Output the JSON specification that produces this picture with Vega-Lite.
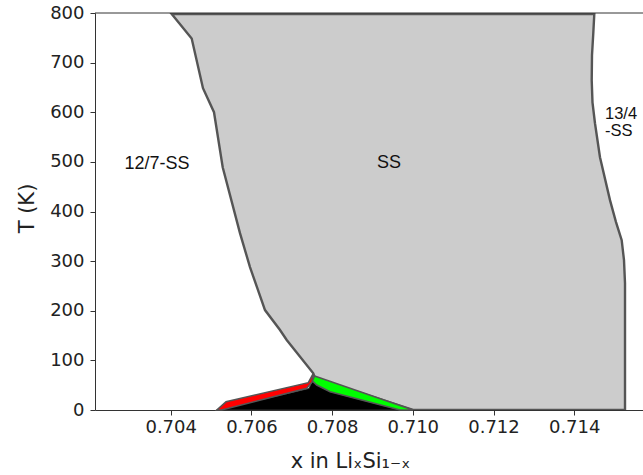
{
  "$schema": "https://vega.github.io/schema/vega-lite/v6.json",
  "autosize": "none",
  "padding": {"left": 95, "top": 13, "right": 0, "bottom": 65},
  "width": 548,
  "height": 397,
  "background": "white",
  "config": {"view": {"stroke": null}},
  "datasets": {
    "regions": [
      {"phase": "SS", "i": 1, "x": 0.704025, "T": 798},
      {"phase": "SS", "i": 2, "x": 0.70452, "T": 748.5},
      {"phase": "SS", "i": 3, "x": 0.7048, "T": 648.4},
      {"phase": "SS", "i": 4, "x": 0.705073, "T": 600.1},
      {"phase": "SS", "i": 5, "x": 0.705289, "T": 489.3},
      {"phase": "SS", "i": 6, "x": 0.705717, "T": 356.4},
      {"phase": "SS", "i": 7, "x": 0.705965, "T": 288},
      {"phase": "SS", "i": 8, "x": 0.706337, "T": 201.4},
      {"phase": "SS", "i": 9, "x": 0.706709, "T": 161.1},
      {"phase": "SS", "i": 10, "x": 0.706875, "T": 141},
      {"phase": "SS", "i": 11, "x": 0.707534, "T": 73.9},
      {"phase": "SS", "i": 12, "x": 0.707576, "T": 64.4},
      {"phase": "SS", "i": 13, "x": 0.710005, "T": 0},
      {"phase": "SS", "i": 14, "x": 0.715259, "T": 0},
      {"phase": "SS", "i": 15, "x": 0.715259, "T": 255.7},
      {"phase": "SS", "i": 16, "x": 0.715234, "T": 302},
      {"phase": "SS", "i": 17, "x": 0.715177, "T": 342.3},
      {"phase": "SS", "i": 18, "x": 0.715036, "T": 378.6},
      {"phase": "SS", "i": 19, "x": 0.714887, "T": 422.9},
      {"phase": "SS", "i": 20, "x": 0.714639, "T": 509.5},
      {"phase": "SS", "i": 21, "x": 0.714515, "T": 577.9},
      {"phase": "SS", "i": 22, "x": 0.714453, "T": 620},
      {"phase": "SS", "i": 23, "x": 0.714434, "T": 664.5},
      {"phase": "SS", "i": 24, "x": 0.714441, "T": 714.9},
      {"phase": "SS", "i": 25, "x": 0.714473, "T": 759.2},
      {"phase": "SS", "i": 26, "x": 0.714498, "T": 798},
      {"phase": "black", "i": 1, "x": 0.70514, "T": 0},
      {"phase": "black", "i": 2, "x": 0.707428, "T": 43.3},
      {"phase": "black", "i": 3, "x": 0.707502, "T": 57.4},
      {"phase": "black", "i": 4, "x": 0.707618, "T": 50.3},
      {"phase": "black", "i": 5, "x": 0.707948, "T": 36.9},
      {"phase": "black", "i": 6, "x": 0.709683, "T": 0},
      {"phase": "red", "i": 1, "x": 0.70514, "T": 0},
      {"phase": "red", "i": 2, "x": 0.705371, "T": 16.5},
      {"phase": "red", "i": 3, "x": 0.70741, "T": 55},
      {"phase": "red", "i": 4, "x": 0.707534, "T": 73.9},
      {"phase": "red", "i": 5, "x": 0.707509, "T": 57},
      {"phase": "red", "i": 6, "x": 0.707371, "T": 43.7},
      {"phase": "red", "i": 7, "x": 0.705264, "T": 0},
      {"phase": "green", "i": 1, "x": 0.707566, "T": 68.5},
      {"phase": "green", "i": 2, "x": 0.710005, "T": 0},
      {"phase": "green", "i": 3, "x": 0.709683, "T": 0},
      {"phase": "green", "i": 4, "x": 0.707948, "T": 36.9},
      {"phase": "green", "i": 5, "x": 0.707618, "T": 50.3},
      {"phase": "green", "i": 6, "x": 0.707514, "T": 58.4}
    ],
    "labels": [
      {"label": "12/7-SS", "x": 0.70366, "T": 485, "align": "center"},
      {"label": "SS", "x": 0.70941, "T": 487, "align": "center"},
      {"label": "13/4", "x": 0.714763, "T": 586, "align": "left"},
      {"label": "-SS", "x": 0.714763, "T": 553, "align": "left"}
    ]
  },
  "layer": [
    {
      "data": {"name": "regions"},
      "transform": [{"filter": "datum.phase === 'SS'"}],
      "mark": {"type": "line", "interpolate": "linear-closed", "fill": "#cccccc", "stroke": "#555555", "strokeWidth": 2.4, "clip": true},
      "encoding": {
        "x": {"field": "x", "type": "quantitative", "scale": {"domain": [0.702124, 0.715705], "nice": false, "zero": false},
          "axis": {"values": [0.704, 0.706, 0.708, 0.71, 0.712, 0.714], "format": ".3f", "grid": false,
            "title": "x in LiₓSi₁₋ₓ", "titleFont": "DejaVu Sans", "titleFontSize": 21, "titleFontWeight": "normal", "titleColor": "#222",
            "titleX": 255, "titleY": 57, "titleBaseline": "alphabetic", "titleAlign": "center",
            "labelFont": "DejaVu Sans", "labelFontSize": 18, "labelColor": "#222", "labelPadding": 3,
            "tickSize": 5, "tickColor": "#333", "domainColor": "#333", "labelFlush": false}},
        "y": {"field": "T", "type": "quantitative", "scale": {"domain": [0, 800], "nice": false, "zero": false},
          "axis": {"values": [0, 100, 200, 300, 400, 500, 600, 700, 800], "grid": false,
            "title": "T (K)", "titleFont": "DejaVu Sans", "titleFontSize": 21, "titleFontWeight": "normal", "titleColor": "#222",
            "titleX": -61.5, "titleY": 195, "titleBaseline": "alphabetic", "titleAlign": "center", "titleAngle": 270,
            "labelFont": "DejaVu Sans", "labelFontSize": 18, "labelColor": "#222", "labelPadding": 6,
            "tickSize": 5, "tickColor": "#333", "domainColor": "#333", "labelFlush": false}},
        "order": {"field": "i", "type": "quantitative"}
      }
    },
    {
      "data": {"name": "regions"},
      "transform": [{"filter": "datum.phase === 'black'"}],
      "mark": {"type": "line", "interpolate": "linear-closed", "fill": "#000000", "stroke": "#333333", "strokeWidth": 1},
      "encoding": {
        "x": {"field": "x", "type": "quantitative"},
        "y": {"field": "T", "type": "quantitative"},
        "order": {"field": "i", "type": "quantitative"}
      }
    },
    {
      "data": {"name": "regions"},
      "transform": [{"filter": "datum.phase === 'red'"}],
      "mark": {"type": "line", "interpolate": "linear-closed", "fill": "#ff0000", "stroke": "#555555", "strokeWidth": 1.5},
      "encoding": {
        "x": {"field": "x", "type": "quantitative"},
        "y": {"field": "T", "type": "quantitative"},
        "order": {"field": "i", "type": "quantitative"}
      }
    },
    {
      "data": {"name": "regions"},
      "transform": [{"filter": "datum.phase === 'green'"}],
      "mark": {"type": "line", "interpolate": "linear-closed", "fill": "#00ff00", "stroke": "#555555", "strokeWidth": 1.5},
      "encoding": {
        "x": {"field": "x", "type": "quantitative"},
        "y": {"field": "T", "type": "quantitative"},
        "order": {"field": "i", "type": "quantitative"}
      }
    },
    {
      "data": {"values": [{"T": 800}]},
      "mark": {"type": "rule", "color": "#333333", "strokeWidth": 1},
      "encoding": {"y": {"field": "T", "type": "quantitative"}}
    },
    {
      "data": {"name": "labels"},
      "transform": [{"filter": "datum.align === 'center'"}],
      "mark": {"type": "text", "font": "Liberation Sans", "fontSize": 18, "color": "#111111", "align": "center", "baseline": "alphabetic"},
      "encoding": {
        "x": {"field": "x", "type": "quantitative"},
        "y": {"field": "T", "type": "quantitative"},
        "text": {"field": "label"}
      }
    },
    {
      "data": {"name": "labels"},
      "transform": [{"filter": "datum.align === 'left'"}],
      "mark": {"type": "text", "font": "Liberation Sans", "fontSize": 16.5, "color": "#111111", "align": "left", "baseline": "alphabetic"},
      "encoding": {
        "x": {"field": "x", "type": "quantitative"},
        "y": {"field": "T", "type": "quantitative"},
        "text": {"field": "label"}
      }
    }
  ]
}
